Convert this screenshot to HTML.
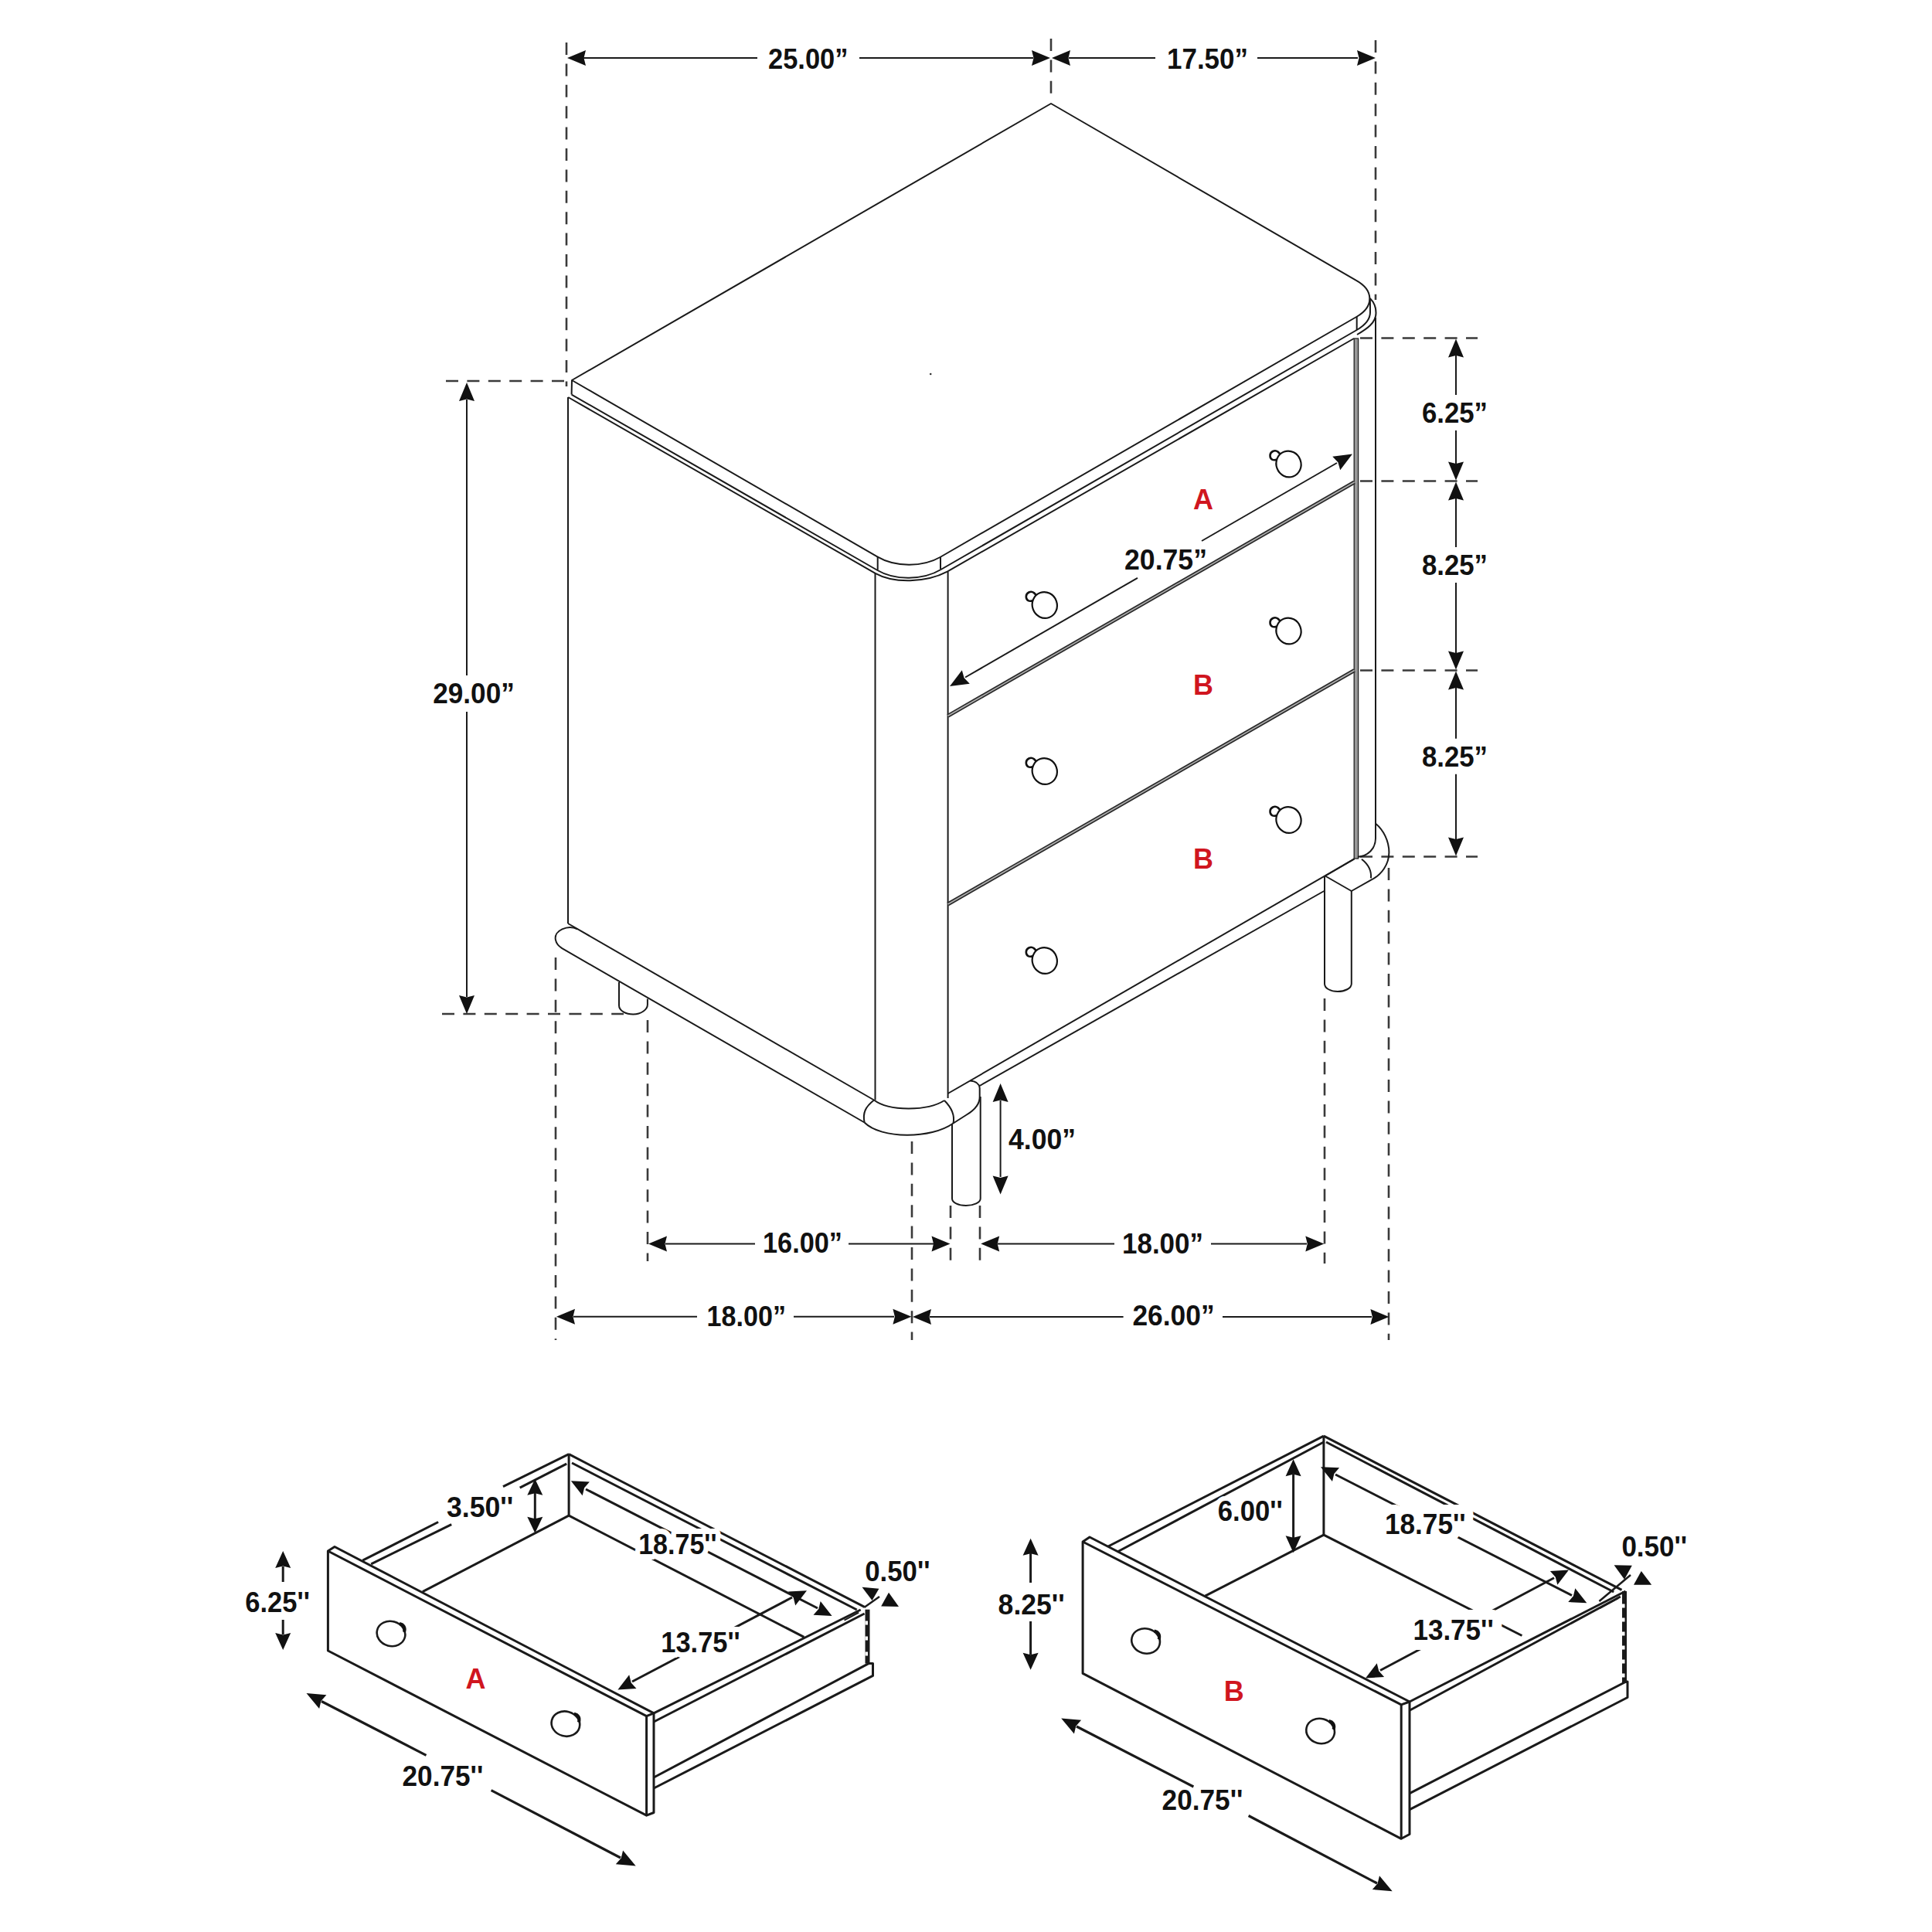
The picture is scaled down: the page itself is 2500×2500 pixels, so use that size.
<!DOCTYPE html>
<html><head><meta charset="utf-8"><style>
html,body{margin:0;padding:0;background:#fff;}
svg{display:block;}
text{font-family:"Liberation Sans", sans-serif;}
</style></head><body>
<svg width="2500" height="2500" viewBox="0 0 2500 2500">
<rect width="2500" height="2500" fill="#fff"/>
<line x1="733.0" y1="55.0" x2="733.0" y2="500.0" stroke="#3a3a3a" stroke-width="2.6" stroke-dasharray="16 11.4" stroke-dashoffset="0"/>
<line x1="1360.0" y1="50.0" x2="1360.0" y2="124.0" stroke="#3a3a3a" stroke-width="2.6" stroke-dasharray="16 11.4" stroke-dashoffset="0"/>
<line x1="1780.0" y1="52.0" x2="1780.0" y2="388.0" stroke="#3a3a3a" stroke-width="2.6" stroke-dasharray="16 11.4" stroke-dashoffset="0"/>
<polygon points="734.0,75.0 758.0,65.0 755.5,75.0 758.0,85.0" fill="#111"/>
<line x1="755.0" y1="75.0" x2="980.0" y2="75.0" stroke="#1a1a1a" stroke-width="2"/>
<line x1="1112.0" y1="75.0" x2="1337.0" y2="75.0" stroke="#1a1a1a" stroke-width="2"/>
<polygon points="1359.0,75.0 1335.0,85.0 1337.5,75.0 1335.0,65.0" fill="#111"/>
<text x="994.0" y="89.0" font-size="37" font-weight="bold" fill="#111" textLength="103.5" lengthAdjust="spacingAndGlyphs">25.00”</text>
<polygon points="1361.0,75.0 1385.0,65.0 1382.5,75.0 1385.0,85.0" fill="#111"/>
<line x1="1383.0" y1="75.0" x2="1495.0" y2="75.0" stroke="#1a1a1a" stroke-width="2"/>
<line x1="1627.0" y1="75.0" x2="1757.0" y2="75.0" stroke="#1a1a1a" stroke-width="2"/>
<polygon points="1780.0,75.0 1756.0,85.0 1758.5,75.0 1756.0,65.0" fill="#111"/>
<text x="1510.0" y="89.0" font-size="37" font-weight="bold" fill="#111" textLength="105.0" lengthAdjust="spacingAndGlyphs">17.50”</text>
<line x1="1760.0" y1="437.5" x2="1912.0" y2="437.5" stroke="#3a3a3a" stroke-width="2.6" stroke-dasharray="16 11.4" stroke-dashoffset="0"/>
<line x1="1760.0" y1="622.5" x2="1912.0" y2="622.5" stroke="#3a3a3a" stroke-width="2.6" stroke-dasharray="16 11.4" stroke-dashoffset="0"/>
<line x1="1760.0" y1="867.5" x2="1912.0" y2="867.5" stroke="#3a3a3a" stroke-width="2.6" stroke-dasharray="16 11.4" stroke-dashoffset="0"/>
<line x1="1760.0" y1="1108.5" x2="1912.0" y2="1108.5" stroke="#3a3a3a" stroke-width="2.6" stroke-dasharray="16 11.4" stroke-dashoffset="0"/>
<polygon points="1884.0,438.5 1894.0,462.5 1884.0,460.0 1874.0,462.5" fill="#111"/>
<polygon points="1884.0,621.5 1874.0,597.5 1884.0,600.0 1894.0,597.5" fill="#111"/>
<line x1="1884.0" y1="459.5" x2="1884.0" y2="511.0" stroke="#1a1a1a" stroke-width="2"/>
<line x1="1884.0" y1="557.0" x2="1884.0" y2="600.5" stroke="#1a1a1a" stroke-width="2"/>
<text x="1840.0" y="547.0" font-size="37" font-weight="bold" fill="#111" textLength="85.0" lengthAdjust="spacingAndGlyphs">6.25”</text>
<polygon points="1884.0,623.5 1894.0,647.5 1884.0,645.0 1874.0,647.5" fill="#111"/>
<polygon points="1884.0,866.5 1874.0,842.5 1884.0,845.0 1894.0,842.5" fill="#111"/>
<line x1="1884.0" y1="644.5" x2="1884.0" y2="708.0" stroke="#1a1a1a" stroke-width="2"/>
<line x1="1884.0" y1="754.0" x2="1884.0" y2="845.5" stroke="#1a1a1a" stroke-width="2"/>
<text x="1840.0" y="744.0" font-size="37" font-weight="bold" fill="#111" textLength="85.0" lengthAdjust="spacingAndGlyphs">8.25”</text>
<polygon points="1884.0,868.5 1894.0,892.5 1884.0,890.0 1874.0,892.5" fill="#111"/>
<polygon points="1884.0,1107.5 1874.0,1083.5 1884.0,1086.0 1894.0,1083.5" fill="#111"/>
<line x1="1884.0" y1="889.5" x2="1884.0" y2="955.7" stroke="#1a1a1a" stroke-width="2"/>
<line x1="1884.0" y1="1001.7" x2="1884.0" y2="1086.5" stroke="#1a1a1a" stroke-width="2"/>
<text x="1840.0" y="991.7" font-size="37" font-weight="bold" fill="#111" textLength="85.0" lengthAdjust="spacingAndGlyphs">8.25”</text>
<line x1="577.0" y1="493.0" x2="733.0" y2="493.0" stroke="#3a3a3a" stroke-width="2.6" stroke-dasharray="16 11.4" stroke-dashoffset="0"/>
<line x1="572.0" y1="1312.0" x2="807.0" y2="1312.0" stroke="#3a3a3a" stroke-width="2.6" stroke-dasharray="16 11.4" stroke-dashoffset="0"/>
<polygon points="604.0,495.0 614.0,519.0 604.0,516.5 594.0,519.0" fill="#111"/>
<line x1="604.0" y1="517.0" x2="604.0" y2="874.0" stroke="#1a1a1a" stroke-width="2"/>
<line x1="604.0" y1="921.0" x2="604.0" y2="1290.0" stroke="#1a1a1a" stroke-width="2"/>
<polygon points="604.0,1312.0 594.0,1288.0 604.0,1290.5 614.0,1288.0" fill="#111"/>
<text x="560.2" y="909.7" font-size="37" font-weight="bold" fill="#111" textLength="105.6" lengthAdjust="spacingAndGlyphs">29.00”</text>
<line x1="719.0" y1="1239.0" x2="719.0" y2="1734.0" stroke="#3a3a3a" stroke-width="2.6" stroke-dasharray="16 11.4" stroke-dashoffset="0"/>
<line x1="838.0" y1="1320.0" x2="838.0" y2="1632.0" stroke="#3a3a3a" stroke-width="2.6" stroke-dasharray="16 11.4" stroke-dashoffset="0"/>
<line x1="1180.0" y1="1477.0" x2="1180.0" y2="1734.0" stroke="#3a3a3a" stroke-width="2.6" stroke-dasharray="16 11.4" stroke-dashoffset="0"/>
<line x1="1230.0" y1="1560.0" x2="1230.0" y2="1632.0" stroke="#3a3a3a" stroke-width="2.6" stroke-dasharray="16 11.4" stroke-dashoffset="0"/>
<line x1="1268.0" y1="1560.0" x2="1268.0" y2="1632.0" stroke="#3a3a3a" stroke-width="2.6" stroke-dasharray="16 11.4" stroke-dashoffset="0"/>
<line x1="1714.0" y1="1292.0" x2="1714.0" y2="1635.0" stroke="#3a3a3a" stroke-width="2.6" stroke-dasharray="16 11.4" stroke-dashoffset="0"/>
<line x1="1797.0" y1="1123.0" x2="1797.0" y2="1734.0" stroke="#3a3a3a" stroke-width="2.6" stroke-dasharray="16 11.4" stroke-dashoffset="0"/>
<polygon points="839.0,1609.6 863.0,1599.6 860.5,1609.6 863.0,1619.6" fill="#111"/>
<line x1="861.0" y1="1609.6" x2="977.0" y2="1609.6" stroke="#1a1a1a" stroke-width="2"/>
<line x1="1098.0" y1="1609.6" x2="1208.0" y2="1609.6" stroke="#1a1a1a" stroke-width="2"/>
<polygon points="1229.5,1609.6 1205.5,1619.6 1208.0,1609.6 1205.5,1599.6" fill="#111"/>
<text x="987.0" y="1621.0" font-size="37" font-weight="bold" fill="#111" textLength="103.0" lengthAdjust="spacingAndGlyphs">16.00”</text>
<polygon points="1269.2,1609.4 1293.2,1599.4 1290.7,1609.4 1293.2,1619.4" fill="#111"/>
<line x1="1291.0" y1="1609.4" x2="1442.0" y2="1609.4" stroke="#1a1a1a" stroke-width="2"/>
<line x1="1567.0" y1="1609.4" x2="1691.0" y2="1609.4" stroke="#1a1a1a" stroke-width="2"/>
<polygon points="1713.3,1609.4 1689.3,1619.4 1691.8,1609.4 1689.3,1599.4" fill="#111"/>
<text x="1452.0" y="1621.6" font-size="37" font-weight="bold" fill="#111" textLength="105.0" lengthAdjust="spacingAndGlyphs">18.00”</text>
<polygon points="720.0,1703.8 744.0,1693.8 741.5,1703.8 744.0,1713.8" fill="#111"/>
<line x1="742.0" y1="1703.8" x2="902.0" y2="1703.8" stroke="#1a1a1a" stroke-width="2"/>
<line x1="1027.0" y1="1703.8" x2="1157.0" y2="1703.8" stroke="#1a1a1a" stroke-width="2"/>
<polygon points="1179.4,1703.8 1155.4,1713.8 1157.9,1703.8 1155.4,1693.8" fill="#111"/>
<text x="914.6" y="1715.8" font-size="37" font-weight="bold" fill="#111" textLength="102.4" lengthAdjust="spacingAndGlyphs">18.00”</text>
<polygon points="1181.0,1704.0 1205.0,1694.0 1202.5,1704.0 1205.0,1714.0" fill="#111"/>
<line x1="1203.0" y1="1704.0" x2="1453.6" y2="1704.0" stroke="#1a1a1a" stroke-width="2"/>
<line x1="1582.0" y1="1704.0" x2="1775.0" y2="1704.0" stroke="#1a1a1a" stroke-width="2"/>
<polygon points="1797.4,1704.0 1773.4,1714.0 1775.9,1704.0 1773.4,1694.0" fill="#111"/>
<text x="1465.4" y="1715.2" font-size="37" font-weight="bold" fill="#111" textLength="106.2" lengthAdjust="spacingAndGlyphs">26.00”</text>
<polygon points="1294.6,1402.0 1304.6,1426.0 1294.6,1423.5 1284.6,1426.0" fill="#111"/>
<line x1="1294.6" y1="1424.0" x2="1294.6" y2="1523.0" stroke="#1a1a1a" stroke-width="2"/>
<polygon points="1294.6,1545.6 1284.6,1521.6 1294.6,1524.1 1304.6,1521.6" fill="#111"/>
<text x="1305.0" y="1487.0" font-size="37" font-weight="bold" fill="#111" textLength="87.0" lengthAdjust="spacingAndGlyphs">4.00”</text>
<path d="M 740,492 L 1360,134 L 1754.5,362.6 C 1778.0,375.5 1778.3,396.7 1755.3,410.0 L 1216.5,721 C 1194.1,734.0 1158.0,733.8 1135.7,720.6 Z" fill="none" stroke="#1a1a1a" stroke-width="2" stroke-linejoin="round"/>
<line x1="740.0" y1="492.0" x2="739.6" y2="510.6" stroke="#1a1a1a" stroke-width="2"/>
<line x1="1135.7" y1="720.6" x2="1135.7" y2="737.6" stroke="#1a1a1a" stroke-width="2"/>
<line x1="1217.0" y1="721.0" x2="1217.0" y2="736.6" stroke="#1a1a1a" stroke-width="2"/>
<line x1="1755.7" y1="410.0" x2="1755.7" y2="427.0" stroke="#1a1a1a" stroke-width="2"/>
<path d="M 739.6,510.6 L 1135.5,738 C 1157.9,751.3 1194.6,750.8 1217.5,737.0 L 1755.7,427 C 1766,421 1773,413 1773,404 C 1773,396 1773,390 1772.8,386" fill="none" stroke="#1a1a1a" stroke-width="2" stroke-linejoin="round"/>
<path d="M 735.2,514 L 1132.6,741.8 C 1156.6,755.2 1198.3,754.2 1225.8,739.7 L 1752,438" fill="none" stroke="#1a1a1a" stroke-width="2" stroke-linejoin="round"/>
<path d="M 1756,433 C 1768,426 1780.5,418 1780.5,405 C 1780.5,396 1777,390 1772.8,386" fill="none" stroke="#1a1a1a" stroke-width="2" stroke-linejoin="round"/>
<line x1="735.0" y1="514.0" x2="735.0" y2="1195.0" stroke="#1a1a1a" stroke-width="2"/>
<line x1="1132.5" y1="742.0" x2="1132.5" y2="1423.5" stroke="#1a1a1a" stroke-width="2"/>
<line x1="1226.6" y1="740.0" x2="1226.6" y2="1421.0" stroke="#1a1a1a" stroke-width="2"/>
<line x1="1780.0" y1="411.0" x2="1780.0" y2="1085.0" stroke="#1a1a1a" stroke-width="2"/>
<rect x="1752.2" y="438" width="5.4" height="673" fill="#999" stroke="#222" stroke-width="1.3"/>
<line x1="1226.6" y1="926.3" x2="1752.5" y2="624.0" stroke="#2a2a2a" stroke-width="5"/>
<line x1="1226.6" y1="926.3" x2="1752.5" y2="624.0" stroke="#b0b0b0" stroke-width="1.6"/>
<line x1="1226.6" y1="1170.0" x2="1752.5" y2="867.5" stroke="#2a2a2a" stroke-width="5"/>
<line x1="1226.6" y1="1170.0" x2="1752.5" y2="867.5" stroke="#b0b0b0" stroke-width="1.6"/>
<line x1="1226.6" y1="1415.0" x2="1752.5" y2="1111.4" stroke="#1a1a1a" stroke-width="2"/>
<path d="M 1658.5,589.5 L 1653.5,584.5 C 1649.5,581.5 1643.5,584.5 1643.5,589.5 C 1643.5,594.5 1647.5,596.5 1652.5,594.5 L 1655.5,596.5" fill="none" stroke="#111" stroke-width="2.6" stroke-linejoin="round"/>
<ellipse cx="1667.5" cy="600.5" rx="16" ry="17" fill="white" stroke="#111" stroke-width="2.2" transform="rotate(-20 1667.5 600.5)"/>
<path d="M 1342.8,772.0 L 1337.8,767.0 C 1333.8,764.0 1327.8,767.0 1327.8,772.0 C 1327.8,777.0 1331.8,779.0 1336.8,777.0 L 1339.8,779.0" fill="none" stroke="#111" stroke-width="2.6" stroke-linejoin="round"/>
<ellipse cx="1351.8" cy="783.0" rx="16" ry="17" fill="white" stroke="#111" stroke-width="2.2" transform="rotate(-20 1351.8 783.0)"/>
<path d="M 1658.5,805.5 L 1653.5,800.5 C 1649.5,797.5 1643.5,800.5 1643.5,805.5 C 1643.5,810.5 1647.5,812.5 1652.5,810.5 L 1655.5,812.5" fill="none" stroke="#111" stroke-width="2.6" stroke-linejoin="round"/>
<ellipse cx="1667.5" cy="816.5" rx="16" ry="17" fill="white" stroke="#111" stroke-width="2.2" transform="rotate(-20 1667.5 816.5)"/>
<path d="M 1342.8,987.0 L 1337.8,982.0 C 1333.8,979.0 1327.8,982.0 1327.8,987.0 C 1327.8,992.0 1331.8,994.0 1336.8,992.0 L 1339.8,994.0" fill="none" stroke="#111" stroke-width="2.6" stroke-linejoin="round"/>
<ellipse cx="1351.8" cy="998.0" rx="16" ry="17" fill="white" stroke="#111" stroke-width="2.2" transform="rotate(-20 1351.8 998.0)"/>
<path d="M 1658.5,1050.0 L 1653.5,1045.0 C 1649.5,1042.0 1643.5,1045.0 1643.5,1050.0 C 1643.5,1055.0 1647.5,1057.0 1652.5,1055.0 L 1655.5,1057.0" fill="none" stroke="#111" stroke-width="2.6" stroke-linejoin="round"/>
<ellipse cx="1667.5" cy="1061.0" rx="16" ry="17" fill="white" stroke="#111" stroke-width="2.2" transform="rotate(-20 1667.5 1061.0)"/>
<path d="M 1342.8,1232.0 L 1337.8,1227.0 C 1333.8,1224.0 1327.8,1227.0 1327.8,1232.0 C 1327.8,1237.0 1331.8,1239.0 1336.8,1237.0 L 1339.8,1239.0" fill="none" stroke="#111" stroke-width="2.6" stroke-linejoin="round"/>
<ellipse cx="1351.8" cy="1243.0" rx="16" ry="17" fill="white" stroke="#111" stroke-width="2.2" transform="rotate(-20 1351.8 1243.0)"/>
<text x="1557.0" y="659.0" font-size="36" font-weight="bold" fill="#d0161f" text-anchor="middle">A</text>
<text x="1557.0" y="899.0" font-size="36" font-weight="bold" fill="#d0161f" text-anchor="middle">B</text>
<text x="1557.0" y="1124.0" font-size="36" font-weight="bold" fill="#d0161f" text-anchor="middle">B</text>
<polygon points="1750.0,587.5 1734.2,608.2 1731.4,598.2 1724.2,590.8" fill="#111"/>
<line x1="1730.0" y1="599.0" x2="1555.0" y2="700.0" stroke="#1a1a1a" stroke-width="2"/>
<line x1="1472.0" y1="747.8" x2="1249.0" y2="876.5" stroke="#1a1a1a" stroke-width="2"/>
<polygon points="1229.0,888.0 1244.8,867.3 1247.6,877.3 1254.8,884.7" fill="#111"/>
<text x="1455.0" y="737.0" font-size="37" font-weight="bold" fill="#111" textLength="107.0" lengthAdjust="spacingAndGlyphs">20.75”</text>
<line x1="735.0" y1="1195.0" x2="1131.0" y2="1423.5" stroke="#1a1a1a" stroke-width="2"/>
<path d="M 747.2,1202.4 C 735,1196 716,1204 719,1216.4 C 720,1222 724,1225 727.3,1227.2 L 1118.6,1452.5" fill="none" stroke="#1a1a1a" stroke-width="2" stroke-linejoin="round"/>
<path d="M 1131,1423.5 C 1150,1438 1200,1438 1222,1424" fill="none" stroke="#1a1a1a" stroke-width="2" stroke-linejoin="round"/>
<path d="M 1118.6,1452.5 C 1140,1474 1205,1474 1233.5,1453.5 L 1250,1443 C 1262,1436 1268,1428 1267.7,1419 L 1267.7,1408 C 1267,1402 1262,1399 1255.3,1398.6" fill="none" stroke="#1a1a1a" stroke-width="2" stroke-linejoin="round"/>
<path d="M 1131,1423.5 C 1120,1432 1116,1440 1118.6,1452.5" fill="none" stroke="#1a1a1a" stroke-width="2" stroke-linejoin="round"/>
<path d="M 1222,1424 C 1230,1432 1236,1442 1233.5,1453.5" fill="none" stroke="#1a1a1a" stroke-width="2" stroke-linejoin="round"/>
<line x1="1267.7" y1="1405.0" x2="1713.3" y2="1153.0" stroke="#1a1a1a" stroke-width="2"/>
<path d="M 1780,1085 C 1780,1098 1770,1108 1756.8,1108.8" fill="none" stroke="#1a1a1a" stroke-width="2" stroke-linejoin="round"/>
<path d="M 1780.4,1066 C 1790,1074 1797.4,1088 1797.4,1103 C 1797.4,1118 1788,1132 1774.2,1138.6 L 1748.8,1153 L 1714.8,1133.5 L 1752.5,1111.4" fill="none" stroke="#1a1a1a" stroke-width="2" stroke-linejoin="round"/>
<path d="M 1762,1111.7 C 1770,1118 1775,1126 1774,1136.4" fill="none" stroke="#1a1a1a" stroke-width="2" stroke-linejoin="round"/>
<path d="M 801,1271 L 801,1301 C 801,1308 810,1312.5 819.3,1312.5 C 830,1312.5 837.9,1306 837.9,1300 L 837.9,1292.6" fill="none" stroke="#1a1a1a" stroke-width="2" stroke-linejoin="round"/>
<path d="M 1232,1454.5 L 1232,1551 C 1232,1556 1240,1560 1250,1560 C 1260,1560 1268.7,1556 1268.7,1551 L 1268.7,1419" fill="none" stroke="#1a1a1a" stroke-width="2" stroke-linejoin="round"/>
<path d="M 1714,1133.5 L 1714,1273 C 1714,1279 1722,1283 1731,1283 C 1740,1283 1748.8,1279 1748.8,1273 L 1748.8,1153" fill="none" stroke="#1a1a1a" stroke-width="2" stroke-linejoin="round"/>
<circle cx="1204.2" cy="484" r="1.3" fill="#333"/>
<polygon points="424.4,2007.0 433.0,2001.5 846.0,2216.9 846.0,2345.5 836.6,2349.2 424.4,2136.0 424.4,2007.0" fill="none" stroke="#1a1a1a" stroke-width="3" stroke-linejoin="round"/>
<polyline points="424.4,2007.0 836.6,2220.6 846.0,2216.9" fill="none" stroke="#1a1a1a" stroke-width="3" stroke-linejoin="round"/>
<line x1="836.6" y1="2220.6" x2="836.6" y2="2349.2" stroke="#1a1a1a" stroke-width="3"/>
<line x1="469.3" y1="2019.2" x2="567.1" y2="1969.5" stroke="#1a1a1a" stroke-width="3"/>
<line x1="480.2" y1="2023.8" x2="584.2" y2="1972.6" stroke="#1a1a1a" stroke-width="3"/>
<line x1="651.0" y1="1923.7" x2="736.1" y2="1881.7" stroke="#1a1a1a" stroke-width="3"/>
<line x1="672.7" y1="1925.2" x2="733.2" y2="1894.2" stroke="#1a1a1a" stroke-width="3"/>
<line x1="736.1" y1="1881.7" x2="736.1" y2="1961.2" stroke="#1a1a1a" stroke-width="3"/>
<line x1="546.9" y1="2059.6" x2="736.1" y2="1961.2" stroke="#1a1a1a" stroke-width="3"/>
<line x1="736.1" y1="1881.7" x2="1118.6" y2="2079.3" stroke="#1a1a1a" stroke-width="3"/>
<line x1="740.0" y1="1893.0" x2="1108.7" y2="2083.0" stroke="#1a1a1a" stroke-width="3"/>
<line x1="736.1" y1="1961.2" x2="1040.4" y2="2118.4" stroke="#1a1a1a" stroke-width="3"/>
<line x1="846.0" y1="2216.9" x2="1113.7" y2="2083.0" stroke="#1a1a1a" stroke-width="3"/>
<line x1="846.0" y1="2228.0" x2="1118.6" y2="2088.0" stroke="#1a1a1a" stroke-width="3"/>
<line x1="1092.5" y1="2096.6" x2="1111.2" y2="2086.7" stroke="#1a1a1a" stroke-width="2"/>
<line x1="1122.5" y1="2082.7" x2="1122.5" y2="2152.6" stroke="#1a1a1a" stroke-width="6"/>
<rect x="1119.5" y="2097.5" width="3.5" height="5" fill="#fff"/>
<rect x="1119.5" y="2117.5" width="3.5" height="5" fill="#fff"/>
<rect x="1119.5" y="2137.5" width="3.5" height="5" fill="#fff"/>
<polyline points="846.0,2300.0 1123.9,2152.6 1129.5,2152.6 1129.5,2168.4 846.0,2314.0" fill="none" stroke="#1a1a1a" stroke-width="3" stroke-linejoin="round"/>
<ellipse cx="506.0" cy="2114.0" rx="18.5" ry="16" fill="none" stroke="#1a1a1a" stroke-width="2.6" transform="rotate(15 506.0 2114.0)"/>
<path d="M 517.0,2101.0 C 522.0,2102.0 525.0,2106.0 523.0,2112.0" fill="none" stroke="#111" stroke-width="4"/>
<ellipse cx="731.9" cy="2230.6" rx="18.5" ry="16" fill="none" stroke="#1a1a1a" stroke-width="2.6" transform="rotate(15 731.9 2230.6)"/>
<path d="M 742.9,2217.6 C 747.9,2218.6 750.9,2222.6 748.9,2228.6" fill="none" stroke="#111" stroke-width="4"/>
<text x="615.4" y="2184.5" font-size="36" font-weight="bold" fill="#d0161f" text-anchor="middle">A</text>
<polygon points="366.2,2007.0 376.2,2029.0 366.2,2026.5 356.2,2029.0" fill="#111"/>
<line x1="366.2" y1="2027.0" x2="366.2" y2="2047.0" stroke="#1a1a1a" stroke-width="3"/>
<line x1="366.2" y1="2096.0" x2="366.2" y2="2115.0" stroke="#1a1a1a" stroke-width="3"/>
<polygon points="366.2,2135.0 356.2,2113.0 366.2,2115.5 376.2,2113.0" fill="#111"/>
<text x="317.3" y="2086.0" font-size="36.5" font-weight="bold" fill="#111" textLength="83.7" lengthAdjust="spacingAndGlyphs">6.25''</text>
<polygon points="692.3,1913.8 702.3,1934.8 692.3,1932.3 682.3,1934.8" fill="#111"/>
<line x1="692.3" y1="1932.0" x2="692.3" y2="1966.0" stroke="#1a1a1a" stroke-width="3"/>
<polygon points="692.3,1983.7 682.3,1962.7 692.3,1965.2 702.3,1962.7" fill="#111"/>
<text x="578.0" y="1962.8" font-size="36.5" font-weight="bold" fill="#fff" stroke="#fff" stroke-width="14" stroke-linejoin="round" textLength="86.3" lengthAdjust="spacingAndGlyphs">3.50''</text>
<text x="578.0" y="1962.8" font-size="36.5" font-weight="bold" fill="#111" textLength="86.3" lengthAdjust="spacingAndGlyphs">3.50''</text>
<polygon points="738.8,1916.2 762.9,1917.4 756.1,1925.2 753.7,1935.2" fill="#111"/>
<line x1="758.0" y1="1927.0" x2="1058.0" y2="2081.0" stroke="#1a1a1a" stroke-width="3"/>
<polygon points="1076.6,2090.9 1052.5,2089.7 1059.3,2081.9 1061.7,2071.9" fill="#111"/>
<text x="826.2" y="2011.0" font-size="36.5" font-weight="bold" fill="#fff" stroke="#fff" stroke-width="14" stroke-linejoin="round" textLength="101.3" lengthAdjust="spacingAndGlyphs">18.75''</text>
<text x="826.2" y="2011.0" font-size="36.5" font-weight="bold" fill="#111" textLength="101.3" lengthAdjust="spacingAndGlyphs">18.75''</text>
<polygon points="799.4,2186.4 814.2,2167.3 816.7,2177.4 823.5,2185.1" fill="#111"/>
<line x1="818.0" y1="2176.0" x2="1025.0" y2="2067.0" stroke="#1a1a1a" stroke-width="3"/>
<polygon points="1044.0,2058.3 1029.2,2077.4 1026.7,2067.3 1019.9,2059.6" fill="#111"/>
<text x="855.3" y="2137.5" font-size="36.5" font-weight="bold" fill="#fff" stroke="#fff" stroke-width="14" stroke-linejoin="round" textLength="102.5" lengthAdjust="spacingAndGlyphs">13.75''</text>
<text x="855.3" y="2137.5" font-size="36.5" font-weight="bold" fill="#111" textLength="102.5" lengthAdjust="spacingAndGlyphs">13.75''</text>
<line x1="1118.3" y1="2080.0" x2="1138.0" y2="2066.0" stroke="#1a1a1a" stroke-width="2.5"/>
<polygon points="1115.5,2053.8 1137.4,2055.7 1128.5,2071" fill="#111"/>
<polygon points="1150,2060.8 1140.2,2078.5 1163,2079" fill="#111"/>
<text x="1119.2" y="2045.5" font-size="36.5" font-weight="bold" fill="#111" textLength="84.3" lengthAdjust="spacingAndGlyphs">0.50''</text>
<polygon points="396.5,2191.0 422.4,2193.3 415.5,2201.0 413.1,2211.0" fill="#111"/>
<line x1="416.0" y1="2201.5" x2="551.5" y2="2271.3" stroke="#1a1a1a" stroke-width="3.2"/>
<line x1="635.6" y1="2316.6" x2="803.0" y2="2404.0" stroke="#1a1a1a" stroke-width="3.2"/>
<polygon points="822.7,2414.6 796.8,2412.3 803.7,2404.6 806.1,2394.6" fill="#111"/>
<text x="520.5" y="2311.4" font-size="36.5" font-weight="bold" fill="#111" textLength="104.8" lengthAdjust="spacingAndGlyphs">20.75''</text>
<polygon points="1401.1,1995.0 1410.0,1989.0 1824.0,2202.0 1824.0,2373.5 1813.2,2379.3 1401.1,2165.4 1401.1,1995.0" fill="none" stroke="#1a1a1a" stroke-width="3" stroke-linejoin="round"/>
<polyline points="1401.1,1995.0 1813.2,2205.8 1824.0,2202.0" fill="none" stroke="#1a1a1a" stroke-width="3" stroke-linejoin="round"/>
<line x1="1813.2" y1="2205.8" x2="1813.2" y2="2379.3" stroke="#1a1a1a" stroke-width="3"/>
<line x1="1434.0" y1="2001.0" x2="1712.9" y2="1858.1" stroke="#1a1a1a" stroke-width="3"/>
<line x1="1446.0" y1="2008.0" x2="1712.9" y2="1866.0" stroke="#1a1a1a" stroke-width="3"/>
<line x1="1712.9" y1="1858.1" x2="1712.9" y2="1986.2" stroke="#1a1a1a" stroke-width="3"/>
<line x1="1559.5" y1="2065.2" x2="1712.9" y2="1986.2" stroke="#1a1a1a" stroke-width="3"/>
<line x1="1712.9" y1="1858.1" x2="2098.5" y2="2057.4" stroke="#1a1a1a" stroke-width="3"/>
<line x1="1716.0" y1="1866.0" x2="2088.2" y2="2060.0" stroke="#1a1a1a" stroke-width="3"/>
<line x1="1712.9" y1="1986.2" x2="1969.4" y2="2116.5" stroke="#1a1a1a" stroke-width="3"/>
<line x1="1824.0" y1="2202.0" x2="2103.5" y2="2059.0" stroke="#1a1a1a" stroke-width="3"/>
<line x1="1824.0" y1="2213.3" x2="2096.8" y2="2066.0" stroke="#1a1a1a" stroke-width="3"/>
<line x1="2070.0" y1="2081.0" x2="2094.0" y2="2068.0" stroke="#1a1a1a" stroke-width="2"/>
<line x1="2102.0" y1="2059.0" x2="2102.0" y2="2177.9" stroke="#1a1a1a" stroke-width="6"/>
<rect x="2099" y="2075.5" width="3.5" height="5" fill="#fff"/>
<rect x="2099" y="2093.5" width="3.5" height="5" fill="#fff"/>
<rect x="2099" y="2111.5" width="3.5" height="5" fill="#fff"/>
<rect x="2099" y="2129.5" width="3.5" height="5" fill="#fff"/>
<rect x="2099" y="2147.5" width="3.5" height="5" fill="#fff"/>
<rect x="2099" y="2165.5" width="3.5" height="5" fill="#fff"/>
<polyline points="1824.0,2320.6 2104.2,2176.0 2106.0,2176.0 2106.0,2196.5 1824.0,2341.6" fill="none" stroke="#1a1a1a" stroke-width="3" stroke-linejoin="round"/>
<ellipse cx="1482.6" cy="2123.5" rx="18.5" ry="16" fill="none" stroke="#1a1a1a" stroke-width="2.6" transform="rotate(15 1482.6 2123.5)"/>
<path d="M 1493.6,2110.5 C 1498.6,2111.5 1501.6,2115.5 1499.6,2121.5" fill="none" stroke="#111" stroke-width="4"/>
<ellipse cx="1708.6" cy="2240.0" rx="18.5" ry="16" fill="none" stroke="#1a1a1a" stroke-width="2.6" transform="rotate(15 1708.6 2240.0)"/>
<path d="M 1719.6,2227.0 C 1724.6,2228.0 1727.6,2232.0 1725.6,2238.0" fill="none" stroke="#111" stroke-width="4"/>
<text x="1596.8" y="2201" font-size="36" font-weight="bold" fill="#d0161f" text-anchor="middle">B</text>
<polygon points="1333.6,1990.7 1343.6,2012.7 1333.6,2010.2 1323.6,2012.7" fill="#111"/>
<line x1="1333.6" y1="2010.0" x2="1333.6" y2="2048.0" stroke="#1a1a1a" stroke-width="3"/>
<line x1="1333.6" y1="2098.0" x2="1333.6" y2="2141.0" stroke="#1a1a1a" stroke-width="3"/>
<polygon points="1333.6,2160.7 1323.6,2138.7 1333.6,2141.2 1343.6,2138.7" fill="#111"/>
<text x="1291.6" y="2088.5" font-size="36.5" font-weight="bold" fill="#111" textLength="86.2" lengthAdjust="spacingAndGlyphs">8.25''</text>
<polygon points="1673.6,1888.2 1683.6,1910.2 1673.6,1907.7 1663.6,1910.2" fill="#111"/>
<line x1="1673.6" y1="1906.0" x2="1673.6" y2="1990.0" stroke="#1a1a1a" stroke-width="3"/>
<polygon points="1673.6,2009.3 1663.6,1987.3 1673.6,1989.8 1683.6,1987.3" fill="#111"/>
<text x="1575.8" y="1967.6" font-size="36.5" font-weight="bold" fill="#fff" stroke="#fff" stroke-width="12" stroke-linejoin="round" textLength="83.9" lengthAdjust="spacingAndGlyphs">6.00''</text>
<text x="1575.8" y="1967.6" font-size="36.5" font-weight="bold" fill="#111" textLength="83.9" lengthAdjust="spacingAndGlyphs">6.00''</text>
<polygon points="1709.0,1898.2 1733.1,1899.3 1726.4,1907.1 1724.0,1917.1" fill="#111"/>
<line x1="1728.0" y1="1908.0" x2="2034.0" y2="2064.5" stroke="#1a1a1a" stroke-width="3"/>
<polygon points="2053.3,2074.2 2029.2,2073.1 2035.9,2065.3 2038.3,2055.3" fill="#111"/>
<text x="1791.9" y="1985.0" font-size="36.5" font-weight="bold" fill="#fff" stroke="#fff" stroke-width="24" stroke-linejoin="round" textLength="104.8" lengthAdjust="spacingAndGlyphs">18.75''</text>
<text x="1791.9" y="1985.0" font-size="36.5" font-weight="bold" fill="#111" textLength="104.8" lengthAdjust="spacingAndGlyphs">18.75''</text>
<polygon points="1767.0,2171.5 1781.7,2152.3 1784.2,2162.3 1791.1,2170.0" fill="#111"/>
<line x1="1786.0" y1="2161.5" x2="2011.0" y2="2041.7" stroke="#1a1a1a" stroke-width="3"/>
<polygon points="2030.0,2031.5 2015.3,2050.7 2012.8,2040.7 2005.9,2033.0" fill="#111"/>
<text x="1828.4" y="2122.0" font-size="36.5" font-weight="bold" fill="#fff" stroke="#fff" stroke-width="26" stroke-linejoin="round" textLength="104.4" lengthAdjust="spacingAndGlyphs">13.75''</text>
<text x="1828.4" y="2122.0" font-size="36.5" font-weight="bold" fill="#111" textLength="104.4" lengthAdjust="spacingAndGlyphs">13.75''</text>
<line x1="2069.4" y1="2072.0" x2="2110.0" y2="2038.0" stroke="#1a1a1a" stroke-width="2.5"/>
<polygon points="2088.6,2025.3 2111.8,2025.7 2102,2043.8" fill="#111"/>
<polygon points="2123.8,2032.9 2114,2050.7 2137.2,2050.7" fill="#111"/>
<text x="2098.4" y="2014.4" font-size="36.5" font-weight="bold" fill="#111" textLength="84.8" lengthAdjust="spacingAndGlyphs">0.50''</text>
<polygon points="1373.2,2223.6 1399.1,2225.8 1392.3,2233.5 1389.9,2243.6" fill="#111"/>
<line x1="1393.0" y1="2234.0" x2="1544.4" y2="2312.0" stroke="#1a1a1a" stroke-width="3.2"/>
<line x1="1615.6" y1="2349.5" x2="1782.0" y2="2437.0" stroke="#1a1a1a" stroke-width="3.2"/>
<polygon points="1801.7,2447.2 1775.8,2445.0 1782.6,2437.3 1785.0,2427.2" fill="#111"/>
<text x="1503.6" y="2342.4" font-size="36.5" font-weight="bold" fill="#111" textLength="104.8" lengthAdjust="spacingAndGlyphs">20.75''</text>
</svg></body></html>
